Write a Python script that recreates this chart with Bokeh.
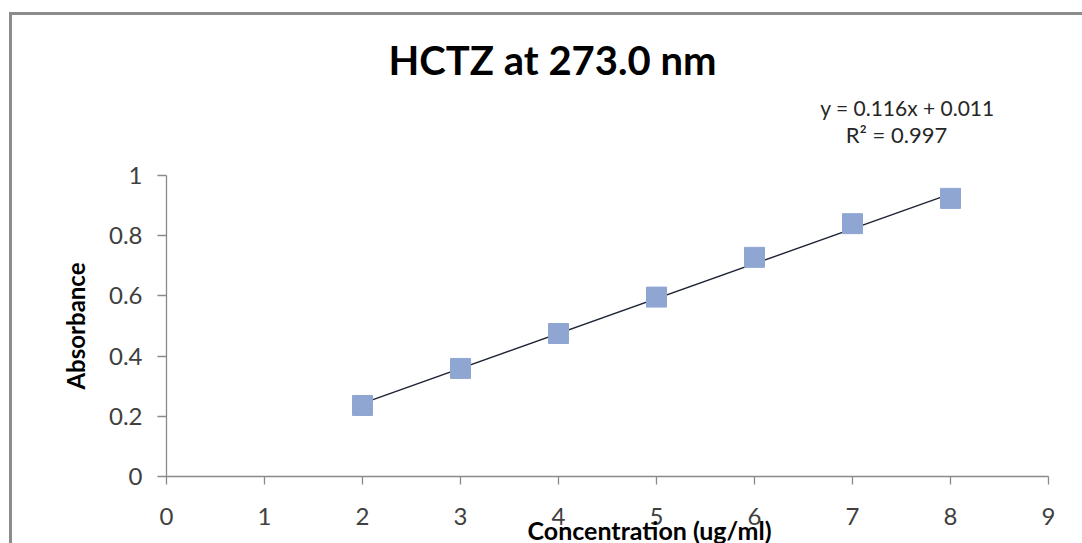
import numpy as np
from bokeh.plotting import figure
from bokeh.models import Label, Range1d, FixedTicker
from bokeh.embed import file_html
from bokeh.resources import INLINE

# ---- data ----
concentration = [2, 3, 4, 5, 6, 7, 8]
absorbance = [0.236, 0.359, 0.475, 0.596, 0.728, 0.840, 0.924]
slope = 0.116
intercept = 0.011
r_squared = 0.997
x_ticks = [0, 1, 2, 3, 4, 5, 6, 7, 8, 9]
y_ticks = [0, 0.2, 0.4, 0.6, 0.8, 1]
title_text = "HCTZ at 273.0 nm"
x_title = "Concentration (ug/ml)"
y_title = "Absorbance"

FONT = "Lato"
AXIS_COL = "#8a8a8a"
TEXT_COL = "#404040"
BORDER_COL = "#8c8c8c"

p = figure(width=1082, height=543, output_backend="svg", toolbar_location=None,
           x_range=Range1d(0, 9), y_range=Range1d(0, 1),
           min_border_left=166, min_border_right=34, min_border_top=175, min_border_bottom=67)
p.outline_line_color = None
p.xgrid.visible = False
p.ygrid.visible = False
# outer chart border drawn behind a transparent border area
p.border_fill_color = None
p.styles = {
    "background-color": "white",
    "background-image": f"linear-gradient({BORDER_COL}, {BORDER_COL}), linear-gradient({BORDER_COL}, {BORDER_COL})",
    "background-size": "3px 100%, 100% 3px",
    "background-position": "9px 12px, 9px 12px",
    "background-repeat": "no-repeat",
}

for ax in (p.xaxis[0], p.yaxis[0]):
    ax.axis_line_color = AXIS_COL
    ax.axis_line_width = 1.3
    ax.major_tick_line_color = AXIS_COL
    ax.major_tick_line_width = 1.3
    ax.major_tick_in = 0
    ax.minor_tick_line_color = None
    ax.major_label_text_font = FONT
    ax.major_label_text_font_size = "24px"
    ax.major_label_text_color = TEXT_COL

p.xaxis[0].ticker = FixedTicker(ticks=x_ticks)
p.xaxis[0].major_tick_out = 8
p.xaxis[0].major_label_standoff = 23
p.yaxis[0].ticker = FixedTicker(ticks=y_ticks)
p.yaxis[0].major_tick_out = 9
p.yaxis[0].major_label_standoff = 15
p.yaxis[0].major_label_overrides = {0: "0", 0.2: "0.2", 0.4: "0.4", 0.6: "0.6", 0.8: "0.8", 1: "1"}
p.yaxis[0].axis_label = y_title
p.yaxis[0].axis_label_text_font = FONT
p.yaxis[0].axis_label_text_font_style = "bold"
p.yaxis[0].axis_label_text_font_size = "24px"
p.yaxis[0].axis_label_text_color = "#000000"
p.yaxis[0].axis_label_standoff = 16

# trendline over data extent
xl = np.array([min(concentration), max(concentration)], dtype=float)
p.line(xl, slope * xl + intercept, line_color="#1c2333", line_width=1.4)

p.scatter(concentration, absorbance, marker="square", size=20,
          fill_color="#8FA6D2", line_color="#8FA6D2")

def lab(x, y, text, size, bold=False, color="#000000"):
    p.add_layout(Label(x=x, y=y, x_units="canvas", y_units="canvas", text=text,
                       text_font=FONT, text_font_style="bold" if bold else "normal",
                       text_font_size=size, text_align="center", text_baseline="middle",
                       text_color=color), "above")

lab(552, 59, title_text, "40px", bold=True)
lab(907, 107, f"y = {slope:.3f}x + {intercept:.3f}", "21px", color="#262626")
lab(896, 134, f"R² = {r_squared:.3f}", "22px", color="#262626")
lab(649, 529, x_title, "25px", bold=True)

open("out.html", "w").write(file_html(p, INLINE))
